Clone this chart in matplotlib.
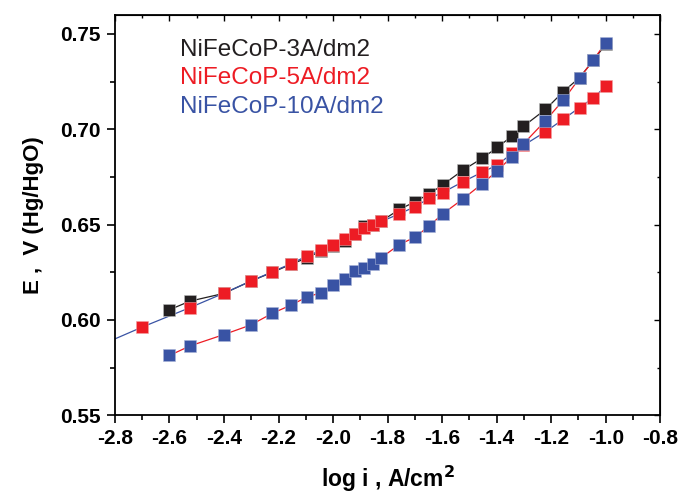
import matplotlib.pyplot as plt
import numpy as np
from matplotlib.ticker import MultipleLocator

# log i (A/cm2) grid shared by the three deposits
log_i = [-2.70, -2.60, -2.525, -2.40, -2.302, -2.223, -2.155, -2.097, -2.045,
         -1.999, -1.957, -1.920, -1.886, -1.852, -1.823, -1.757, -1.699,
         -1.647, -1.598, -1.523, -1.454, -1.397, -1.344, -1.302, -1.221,
         -1.155, -1.096, -1.045, -1.000]

# E vs Hg/HgO, V  (None = no measurement at that point)
e_3a = [None, 0.6053, 0.6098, 0.6139, 0.6203, 0.6249, 0.6291, 0.6324, 0.6361,
        0.6385, 0.6414, 0.6450, 0.6491, 0.6500, 0.6518, 0.6579, 0.6620,
        0.6661, 0.6708, 0.6786, 0.6847, 0.6905, 0.6964, 0.7015, 0.7104,
        0.7198, 0.7271, 0.7362, 0.7446]
e_5a = [0.5962, None, 0.6064, 0.6140, 0.6203, 0.6252, 0.6294, 0.6334, 0.6364,
        0.6394, 0.6423, 0.6448, 0.6483, 0.6495, 0.6516, 0.6556, 0.6594,
        0.6638, 0.6668, 0.6725, 0.6774, 0.6813, 0.6873, 0.6915, 0.6987,
        0.7053, 0.7114, 0.7165, 0.7226]
e_10a = [None, 0.5813, 0.5863, 0.5923, 0.5973, 0.6034, 0.6077, 0.6119, 0.6142,
         0.6184, 0.6216, 0.6254, 0.6271, 0.6294, 0.6326, 0.6395, 0.6434,
         0.6493, 0.6556, 0.6635, 0.6713, 0.6783, 0.6856, 0.6923, 0.7045,
         0.7154, 0.7268, 0.7364, 0.7455]

labels = ['NiFeCoP-3A/dm2', 'NiFeCoP-5A/dm2', 'NiFeCoP-10A/dm2']
black, red, blue = '#231f20', '#ed1c24', '#3953a4'

plt.rcParams['font.family'] = ['Liberation Sans Narrow', 'Liberation Sans', 'DejaVu Sans']

fig = plt.figure(figsize=(6.8, 4.96), dpi=100)
ax = fig.add_axes([0.169, 0.163, 0.802, 0.807])

def pts(vals):
    x = np.array([a for a, b in zip(log_i, vals) if b is not None])
    y = np.array([b for b in vals if b is not None])
    return x, y

x3, y3 = pts(e_3a)
x5, y5 = pts(e_5a)
x10, y10 = pts(e_10a)

# connecting lines (colours as exported from Origin)
ax.plot(x3, y3, color=black, lw=0.9, zorder=2)
# 5A line carried back to the axis edge from its first few points
k, b = np.polyfit(x5[:4], y5[:4], 1)
ax.plot([-2.8, x5[0]], [k * -2.8 + b, y5[0]], color=blue, lw=0.9, zorder=2)
ax.plot(x5, y5, color=blue, lw=0.9, zorder=2)
ax.plot(x10, y10, color=red, lw=0.9, zorder=2)

ms = 8.5
ax.plot(x3, y3, 's', color=black, ms=ms, mec='#bbbbbb', mew=0.4, zorder=3)
ax.plot(x5, y5, 's', color=red, ms=ms, mec='#f4a0a0', mew=0.4, zorder=4)
ax.plot(x10, y10, 's', color=blue, ms=ms, mec='#a8b4d8', mew=0.4, zorder=5)

for i, (lab, c) in enumerate(zip(labels, [black, red, blue])):
    ax.text(0.12, 0.913 - i * 0.071, lab, color=c, fontsize=17.5,
            family=['Liberation Sans', 'DejaVu Sans'],
            transform=ax.transAxes, va='center', ha='left')

ax.set_xlim(-2.8, -0.8)
ax.set_ylim(0.55, 0.76)
ax.xaxis.set_major_locator(MultipleLocator(0.2))
ax.xaxis.set_minor_locator(MultipleLocator(0.1))
ax.yaxis.set_major_locator(MultipleLocator(0.05))
ax.yaxis.set_minor_locator(MultipleLocator(0.025))
ax.xaxis.set_major_formatter(plt.FuncFormatter(lambda v, p: '%.1f' % v))
ax.yaxis.set_major_formatter(plt.FuncFormatter(lambda v, p: '%.2f' % v))

for s in ax.spines.values():
    s.set_linewidth(1.3)
ax.tick_params(which='major', direction='out', length=6, width=1.2,
               labelsize=15, pad=4)
ax.tick_params(which='minor', direction='out', length=3.5, width=1.2)
for lab in ax.get_xticklabels() + ax.get_yticklabels():
    lab.set_fontweight('bold')

# inward ticks on top and right
top = ax.secondary_xaxis('top')
top.xaxis.set_major_locator(MultipleLocator(0.2))
top.xaxis.set_minor_locator(MultipleLocator(0.1))
top.tick_params(which='major', direction='in', length=4, width=1.0, labeltop=False)
top.tick_params(which='minor', direction='in', length=2.5, width=1.0)
right = ax.secondary_yaxis('right')
right.yaxis.set_major_locator(MultipleLocator(0.05))
right.yaxis.set_minor_locator(MultipleLocator(0.025))
right.tick_params(which='major', direction='in', length=4, width=1.0, labelright=False)
right.tick_params(which='minor', direction='in', length=2.5, width=1.0)

ax.set_xlabel('log i , A/cm$^\\mathbf{2}$', fontsize=16.5, fontweight='bold', labelpad=11)
ax.set_ylabel('E ,  V (Hg/HgO)', fontsize=16, fontweight='bold', labelpad=12,
              family=['Liberation Sans', 'DejaVu Sans'])

fig.savefig('out.png', dpi=100)
